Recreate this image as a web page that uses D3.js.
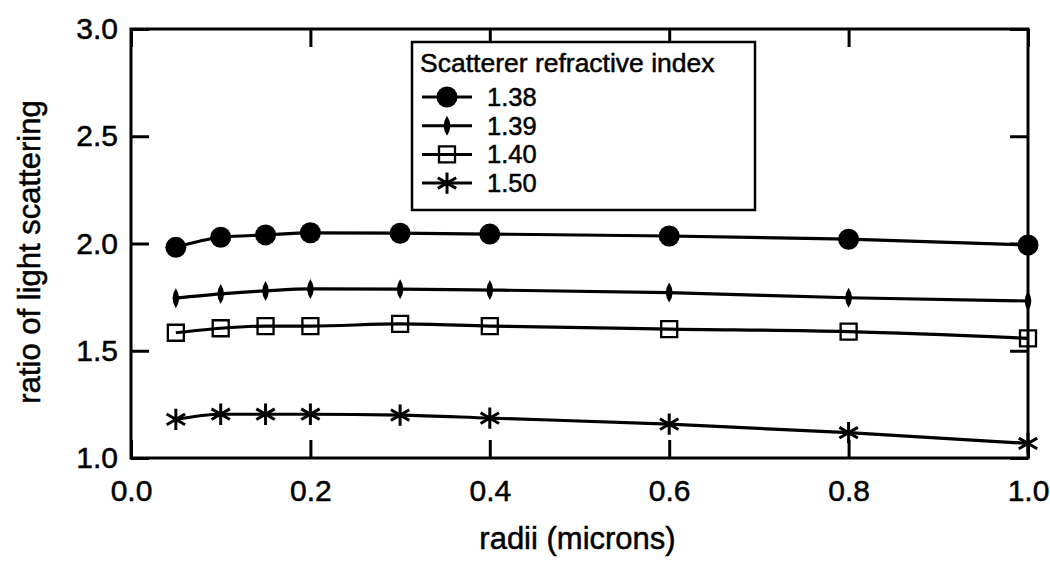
<!DOCTYPE html>
<html>
<head>
<meta charset="utf-8">
<script src="https://cdn.jsdelivr.net/npm/d3@7"></script>
<style>
  html, body { margin: 0; padding: 0; background: #fff; }
  svg { display: block; }
  text { font-family: "Liberation Sans", Arial, Helvetica, sans-serif; fill: #000; stroke: #000; stroke-width: 0.5px; }
</style>
</head>
<body>
<svg id="chart" width="1050" height="562"></svg>
<script>
// ---- data ----
const radii = [0.05, 0.1, 0.15, 0.2, 0.3, 0.4, 0.6, 0.8, 1.0];
const seriesNames = ["1.38", "1.39", "1.40", "1.50"];
const values138 = [1.982, 2.029, 2.040, 2.050, 2.048, 2.044, 2.035, 2.020, 1.993];
const values139 = [1.745, 1.765, 1.779, 1.788, 1.787, 1.783, 1.771, 1.747, 1.732];
const values140 = [1.584, 1.605, 1.615, 1.615, 1.625, 1.615, 1.601, 1.589, 1.558];
const values150 = [1.180, 1.204, 1.204, 1.204, 1.200, 1.186, 1.158, 1.118, 1.068];
const xTicks = [0.0, 0.2, 0.4, 0.6, 0.8, 1.0];
const yTicks = [1.0, 1.5, 2.0, 2.5, 3.0];
const xTitle = "radii (microns)";
const yTitle = "ratio of light scattering";
const legendTitle = "Scatterer refractive index";

const seriesValues = [values138, values139, values140, values150];
const markerKinds = ["circle", "spindle", "square", "asterisk"];

// ---- layout ----
const W = 1050, H = 562;
const margin = { left: 131, right: 22, top: 29, bottom: 104 };
const innerW = W - margin.left - margin.right;
const innerH = H - margin.top - margin.bottom;

const svg = d3.select("#chart");
const g = svg.append("g").attr("transform", `translate(${margin.left},${margin.top})`);

const x = d3.scaleLinear().domain([0, 1]).range([0, innerW]);
const y = d3.scaleLinear().domain([1, 3]).range([innerH, 0]);

// ---- marker symbols ----
const spindle = {
  draw(ctx, size) {
    const h = Math.sqrt(size), w = h / 3.0;
    ctx.moveTo(0, -h / 2);
    ctx.quadraticCurveTo(w, 0, 0, h / 2);
    ctx.quadraticCurveTo(-w, 0, 0, -h / 2);
    ctx.closePath();
  }
};
function markerPath(kind) {
  if (kind === "circle") return d3.symbol(d3.symbolCircle, Math.PI * 10.5 * 10.5)();
  if (kind === "spindle") return d3.symbol(spindle, 20 * 20)();
  if (kind === "square") return d3.symbol(d3.symbolSquare, 16 * 16)();
  return d3.symbol(d3.symbolAsterisk, 320)();
}
function markerStyle(sel, kind) {
  if (kind === "circle" || kind === "spindle") {
    sel.attr("fill", "#000").attr("stroke", "none");
  } else {
    sel.attr("fill", "none").attr("stroke", "#000").attr("stroke-width", kind === "square" ? 2.3 : 3);
  }
}

// ---- frame ----
const tickLen = 18;
const fontTick = 30;

const axB = g.append("g").attr("transform", `translate(0,${innerH})`)
  .call(d3.axisBottom(x).tickValues(xTicks).tickFormat(d3.format(".1f")).tickSize(-tickLen).tickPadding(21));
const axL = g.append("g")
  .call(d3.axisLeft(y).tickValues(yTicks).tickFormat(d3.format(".1f")).tickSize(-tickLen).tickPadding(13));
const axT = g.append("g")
  .call(d3.axisTop(x).tickValues(xTicks).tickFormat("").tickSize(-tickLen));
const axR = g.append("g").attr("transform", `translate(${innerW},0)`)
  .call(d3.axisRight(y).tickValues(yTicks).tickFormat("").tickSize(-tickLen));

[axB, axL, axT, axR].forEach(a => {
  a.select(".domain").remove();
  a.selectAll(".tick line").attr("stroke", "#000").attr("stroke-width", 3);
  a.selectAll(".tick text").attr("font-size", fontTick)
    .style("font-family", '"Liberation Sans", Arial, sans-serif').attr("fill", "#000");
});
axB.selectAll(".tick text").attr("dy", "0.72em");

g.append("rect").attr("x", 0).attr("y", 0).attr("width", innerW).attr("height", innerH)
  .attr("fill", "none").attr("stroke", "#000").attr("stroke-width", 3);

// ---- series ----
const line = d3.line().x(d => x(d[0])).y(d => y(d[1])).curve(d3.curveMonotoneX);
seriesValues.forEach((vals, i) => {
  const pts = radii.map((r, j) => [r, vals[j]]);
  g.append("path").datum(pts).attr("d", line)
    .attr("fill", "none").attr("stroke", "#000").attr("stroke-width", 3.2);
  const kind = markerKinds[i];
  g.append("g").selectAll("path").data(pts).join("path")
    .attr("transform", d => `translate(${x(d[0])},${y(d[1])})`)
    .attr("d", markerPath(kind))
    .call(markerStyle, kind);
});

// ---- legend ----
const lg = svg.append("g");
lg.append("rect").attr("x", 412).attr("y", 42).attr("width", 343).attr("height", 168)
  .attr("fill", "#fff").attr("stroke", "#000").attr("stroke-width", 2.5);
lg.append("text").attr("x", 420).attr("y", 72).attr("font-size", 26.5).text(legendTitle);
seriesNames.forEach((name, i) => {
  const cy = 97 + i * 28.7;
  lg.append("line").attr("x1", 422).attr("x2", 472).attr("y1", cy).attr("y2", cy)
    .attr("stroke", "#000").attr("stroke-width", 3);
  const kind = markerKinds[i];
  lg.append("path").attr("transform", `translate(447,${cy})`)
    .attr("d", markerPath(kind)).call(markerStyle, kind);
  lg.append("text").attr("x", 487).attr("y", cy + 9).attr("font-size", 25.5).text(name);
});

// ---- titles ----
svg.append("text").attr("x", margin.left + innerW / 2 - 2).attr("y", 549)
  .attr("text-anchor", "middle").attr("font-size", 31).text(xTitle);
svg.append("text").attr("transform", `translate(40,252) rotate(-90)`)
  .attr("text-anchor", "middle").attr("font-size", 31).text(yTitle);
</script>
</body>
</html>
